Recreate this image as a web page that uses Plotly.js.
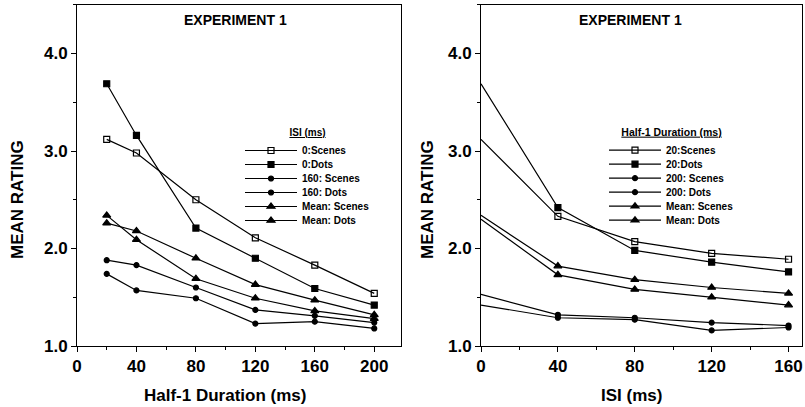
<!DOCTYPE html>
<html>
<head>
<meta charset="utf-8">
<script src="https://cdn.plot.ly/plotly-3.0.1.min.js"></script>
<style>html,body{margin:0;padding:0;background:#fff;}#chart{width:805px;height:407px;}</style>
</head>
<body>
<div id="chart"></div>
<script>
// ---- Left panel: x = Half-1 Duration (ms) ----
const leftX = [20, 40, 80, 120, 160, 200];
const leftNames = ["0:Scenes", "0:Dots", "160: Scenes", "160: Dots", "Mean: Scenes", "Mean: Dots"];
const isi0Scenes   = [3.12, 2.98, 2.50, 2.11, 1.83, 1.54];
const isi0Dots     = [3.69, 3.16, 2.21, 1.90, 1.59, 1.42];
const isi160Scenes = [1.88, 1.83, 1.60, 1.37, 1.31, 1.24];
const isi160Dots   = [1.74, 1.57, 1.49, 1.23, 1.25, 1.18];
const isiMeanScenes = [2.26, 2.18, 1.90, 1.63, 1.47, 1.32];
const isiMeanDots   = [2.34, 2.09, 1.69, 1.49, 1.36, 1.28];

// ---- Right panel: x = ISI (ms) ----
const rightX = [0, 40, 80, 120, 160];
const rightNames = ["20:Scenes", "20:Dots", "200: Scenes", "200: Dots", "Mean: Scenes", "Mean: Dots"];
const dur20Scenes  = [3.12, 2.33, 2.07, 1.95, 1.89];
const dur20Dots    = [3.69, 2.42, 1.98, 1.86, 1.76];
const dur200Scenes = [1.53, 1.32, 1.29, 1.24, 1.21];
const dur200Dots   = [1.42, 1.29, 1.27, 1.16, 1.19];
const durMeanScenes = [2.34, 1.82, 1.68, 1.60, 1.54];
const durMeanDots   = [2.30, 1.73, 1.58, 1.50, 1.42];

const xTicksLeft = [0, 40, 80, 120, 160, 200];
const xTicksRight = [0, 40, 80, 120, 160];
const yTicks = [1, 2, 3, 4];
const yTickText = ["1.0", "2.0", "3.0", "4.0"];

const FONT = "Liberation Sans, Arial, Helvetica, sans-serif";
const symbols = ["square-open", "square", "circle", "circle", "triangle-up", "triangle-up"];
const sizes = [6, 6, 5, 5, 7, 7];

function mk(x, y, i, names, ax, leg) {
  const t = {
    x: x, y: y, name: names[i], type: "scatter", mode: "lines+markers",
    xaxis: ax[0], yaxis: ax[1], legend: leg,
    line: {color: "#000", width: 1.2},
    marker: {symbol: symbols[i], size: sizes[i], color: "#000", line: {color: "#000", width: 1.2}}
  };
  // markers sitting on the y axis (x = 0) are hidden by the axis in the original
  if (x.indexOf(0) >= 0) {
    t.selectedpoints = x.map((v, k) => k).filter(k => x[k] !== 0);
    t.selected = {marker: {opacity: 1}};
    t.unselected = {marker: {opacity: 0}};
  }
  return t;
}
const leftSeries = [isi0Scenes, isi0Dots, isi160Scenes, isi160Dots, isiMeanScenes, isiMeanDots];
const rightSeries = [dur20Scenes, dur20Dots, dur200Scenes, dur200Dots, durMeanScenes, durMeanDots];
const data = [];
leftSeries.forEach((s, i) => data.push(mk(leftX, s, i, leftNames, ["x", "y"], "legend")));
rightSeries.forEach((s, i) => data.push(mk(rightX, s, i, rightNames, ["x2", "y2"], "legend2")));

const tickFont = {family: FONT, size: 17, weight: "bold", color: "#000"};
function xax(domain, range, tv) {
  return {domain: domain, range: range, tickvals: tv, ticks: "outside", ticklen: 5, tickwidth: 1,
    tickcolor: "#000", showline: true, mirror: true, linecolor: "#000", linewidth: 1,
    showgrid: false, zeroline: false, tickfont: tickFont,
    minor: {dtick: 20, tick0: 0, ticks: "outside", ticklen: 3, tickcolor: "#000", showgrid: false}};
}
function yax(domain, anchor) {
  return {domain: domain, anchor: anchor, range: [1, 4.5], tickvals: yTicks, ticktext: yTickText,
    ticks: "outside", ticklen: 5, tickwidth: 1, tickcolor: "#000", showline: true, mirror: true,
    linecolor: "#000", linewidth: 1, showgrid: false, zeroline: false, tickfont: tickFont,
    minor: {dtick: 0.5, tick0: 1, ticks: "outside", ticklen: 3, tickcolor: "#000", showgrid: false}};
}
const yDom = [1 - 346 / 407, 1 - 4.8 / 407];
const legFont = {family: FONT, size: 10, weight: "bold", color: "#000"};
function legend(x, y, title, tsize) {
  return {x: x, y: y, xref: "paper", yref: "paper", xanchor: "left", yanchor: "top",
    bgcolor: "rgba(0,0,0,0)", borderwidth: 0, font: legFont, itemwidth: 52, tracegroupgap: 0,
    title: {text: "<u>" + title + "</u>", font: {family: FONT, size: tsize, weight: "bold", color: "#000"}, side: "top center"}};
}
function ann(text, x, y, size, angle) {
  return {text: text, x: x, y: y, xref: "paper", yref: "paper", showarrow: false,
    xanchor: "center", yanchor: "middle", textangle: angle || 0,
    font: {family: FONT, size: size, weight: "bold", color: "#000"}};
}
const layout = {
  width: 805, height: 407, margin: {l: 0, r: 0, t: 0, b: 0},
  paper_bgcolor: "#fff", plot_bgcolor: "#fff", showlegend: true,
  xaxis: xax([77 / 805, 401 / 805], [0, 218], xTicksLeft),
  yaxis: yax(yDom, "x"),
  xaxis2: Object.assign(xax([481 / 805, 802 / 805], [0, 167], xTicksRight), {anchor: "y2"}),
  yaxis2: yax(yDom, "x2"),
  legend: legend(240 / 805, 1 - 123 / 407, "ISI (ms)", 10),
  legend2: legend(604 / 805, 1 - 122 / 407, "Half-1 Duration (ms)", 10.5),
  annotations: [
    ann("EXPERIMENT 1", 235 / 805, 1 - 20 / 407, 14),
    ann("EXPERIMENT 1", 630 / 805, 1 - 20 / 407, 14),
    ann("MEAN RATING", 17 / 805, 1 - 200 / 407, 17, -90),
    ann("MEAN RATING", 427 / 805, 1 - 200 / 407, 17, -90),
    ann("Half-1 Duration (ms)", 225 / 805, 1 - 395 / 407, 17),
    ann("ISI (ms)", 631 / 805, 1 - 395 / 407, 17)
  ]
};
Plotly.newPlot("chart", data, layout, {displayModeBar: false, staticPlot: true}).then(gd => {
  // tighten legend rows to the original's ~14 px spacing
  gd.querySelectorAll("g[class^='legend']").forEach(leg => {
    let x0 = null, y0 = null;
    leg.querySelectorAll("g.traces").forEach((t, i) => {
      const m = /translate\(\s*([-\d.e]+)[\s,]+([-\d.e]+)\s*\)/.exec(t.getAttribute("transform") || "");
      if (!m) return;
      if (x0 === null) { x0 = +m[1]; y0 = +m[2]; }
      t.setAttribute("transform", "translate(" + x0 + "," + (y0 + i * 14) + ")");
    });
  });
});
</script>
</body>
</html>
